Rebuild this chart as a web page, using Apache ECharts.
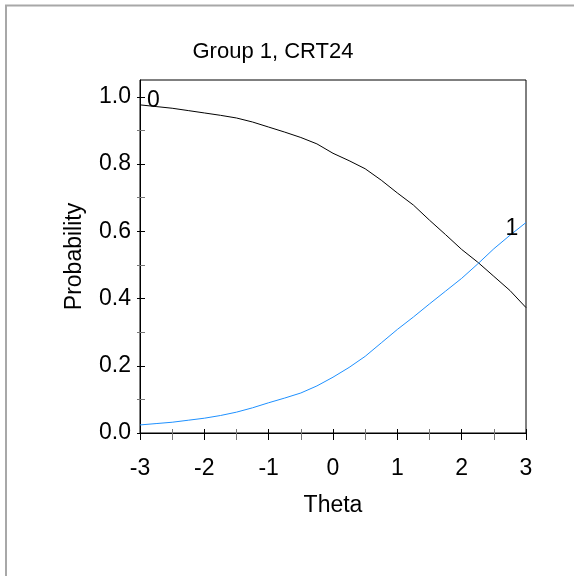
<!DOCTYPE html>
<html>
<head>
<meta charset="utf-8">
<script src="https://cdn.jsdelivr.net/npm/echarts@6/dist/echarts.min.js"></script>
<style>
  html, body { margin: 0; padding: 0; background: #fff; }
  #chart { width: 574px; height: 576px; }
</style>
</head>
<body>
<div id="chart"></div>
<script>
// theta grid and the two category curves
const theta = [-3, -2.75, -2.5, -2.25, -2, -1.75, -1.5, -1.25, -1, -0.75, -0.5, -0.25,
  0, 0.25, 0.5, 0.75, 1, 1.25, 1.5, 1.75, 2, 2.25, 2.5, 2.75, 3]
const prob0 = [0.976, 0.971, 0.966, 0.959, 0.952, 0.945, 0.937, 0.925, 0.910, 0.895, 0.879, 0.860,
  0.832, 0.810, 0.786, 0.752, 0.714, 0.678, 0.633, 0.590, 0.546, 0.508, 0.466, 0.424, 0.373]
const prob1 = [0.024, 0.028, 0.032, 0.038, 0.044, 0.052, 0.062, 0.075, 0.090, 0.104, 0.119, 0.140,
  0.166, 0.195, 0.228, 0.268, 0.308, 0.345, 0.384, 0.422, 0.460, 0.503, 0.548, 0.588, 0.626]
const yMajor = [0, 0.2, 0.4, 0.6, 0.8, 1.0]
const yMinor = [0.1, 0.3, 0.5, 0.7, 0.9]
const label0At = 0   // index where "0" is written
const label1At = 23  // index where "1" is written

const font = 'Liberation Sans, Arial, sans-serif'
const fs = 23
const chart = echarts.init(document.getElementById('chart'))

const curve = (vals, labelIdx, text, lbl) => theta.map((t, i) => {
  const item = { value: [t, vals[i]] }
  if (i === labelIdx) item.label = Object.assign({ show: true, formatter: text }, lbl)
  return item
})

chart.setOption({
  animation: false,
  title: {
    text: 'Group 1, CRT24',
    left: 268, top: 36, textAlign: 'center',
    textStyle: { fontFamily: font, fontSize: 22, fontWeight: 'normal', color: '#000' }
  },
  grid: { left: 140, right: 48, top: 80, bottom: 143, show: true, borderColor: '#000', borderWidth: 1 },
  graphic: [{
    type: 'polyline',
    shape: { points: [[6, 576], [6, 5.5], [574, 5.5]] },
    style: { stroke: '#a8a8a8', lineWidth: 2, fill: null }
  }],
  xAxis: [{
    type: 'value', position: 'bottom', min: -3, max: 3, interval: 1,
    name: 'Theta', nameLocation: 'middle', nameGap: 61,
    nameTextStyle: { fontFamily: font, fontSize: fs, color: '#000' },
    axisLine: { onZero: false, lineStyle: { color: '#000' } },
    axisTick: { show: false },
    axisLabel: { margin: 24, fontFamily: font, fontSize: fs, color: '#000' },
    splitLine: { show: false }
  }, {
    type: 'value', position: 'bottom', offset: -4, min: -3, max: 3, interval: 1,
    axisLine: { show: false, onZero: false },
    axisTick: { length: 11, lineStyle: { color: '#000' } },
    minorTick: { show: true, splitNumber: 2, length: 11, lineStyle: { color: '#777' } },
    axisLabel: { show: false },
    splitLine: { show: false }
  }],
  yAxis: [{
    type: 'value', position: 'left', min: 0, max: 1.05,
    name: 'Probability', nameLocation: 'middle', nameGap: 54,
    nameTextStyle: { fontFamily: font, fontSize: fs, color: '#000' },
    axisLine: { show: true, onZero: false, lineStyle: { color: '#000' } },
    axisTick: { show: false },
    axisLabel: {
      customValues: yMajor, margin: 9, fontFamily: font, fontSize: fs, color: '#000',
      formatter: v => v.toFixed(1)
    },
    splitLine: { show: false }
  }, {
    type: 'value', position: 'left', offset: -5, min: 0, max: 1.05,
    axisLine: { show: false, onZero: false },
    axisTick: { customValues: yMajor, length: 8, lineStyle: { color: '#000' } },
    axisLabel: { show: false },
    splitLine: { show: false }
  }, {
    type: 'value', position: 'left', offset: -5, min: 0, max: 1.05,
    axisLine: { show: false, onZero: false },
    axisTick: { customValues: yMinor, length: 8, lineStyle: { color: '#777' } },
    axisLabel: { show: false },
    splitLine: { show: false }
  }],
  series: [{
    name: '0', type: 'line', xAxisIndex: 0, yAxisIndex: 0,
    symbol: 'circle', symbolSize: 0, showSymbol: true, showAllSymbol: true,
    lineStyle: { color: '#000', width: 1 }, itemStyle: { color: '#000' },
    data: curve(prob0, label0At, '0',
      { position: 'right', offset: [2, -4], fontFamily: font, fontSize: fs, color: '#000' })
  }, {
    name: '1', type: 'line', xAxisIndex: 0, yAxisIndex: 0,
    symbol: 'circle', symbolSize: 0, showSymbol: true, showAllSymbol: true,
    lineStyle: { color: '#1E90FF', width: 1 }, itemStyle: { color: '#1E90FF' },
    data: curve(prob1, label1At, '1',
      { position: 'top', distance: 0, offset: [2, 5], fontFamily: font, fontSize: fs, color: '#000' })
  }]
})
</script>
</body>
</html>
